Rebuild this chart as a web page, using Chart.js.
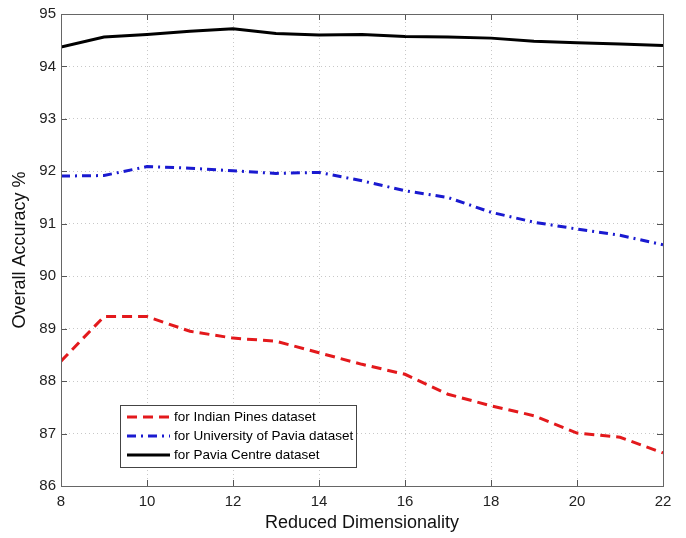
<!DOCTYPE html>
<html>
<head>
<meta charset="utf-8">
<script src="https://cdn.jsdelivr.net/npm/chart.js@4"></script>
<style>
  html, body { margin: 0; padding: 0; background: #fff; }
  #wrap { width: 686px; height: 538px; position: relative; }
</style>
</head>
<body>
<div id="wrap"><canvas id="chart"></canvas></div>
<script>
(function(){
    "use strict";

    const dims = [8, 9, 10, 11, 12, 13, 14, 15, 16, 17, 18, 19, 20, 21, 22];
    const indianPines = [88.38, 89.23, 89.23, 88.95, 88.82, 88.76, 88.54, 88.32, 88.13, 87.75, 87.53, 87.34, 87.01, 86.93, 86.63];
    const paviaUniv = [91.91, 91.92, 92.09, 92.06, 92.01, 91.96, 91.98, 91.82, 91.63, 91.50, 91.22, 91.03, 90.90, 90.78, 90.60];
    const paviaCentre = [94.37, 94.56, 94.61, 94.67, 94.72, 94.63, 94.60, 94.61, 94.57, 94.56, 94.54, 94.48, 94.45, 94.43, 94.40];
    const seriesNames = ['for Indian Pines dataset', 'for University of Pavia dataset', 'for Pavia Centre dataset'];

    const font = '"Liberation Sans", Arial, Helvetica, sans-serif';

    function toPoints(vals) {
        return dims.map((d, i) => ({ x: d, y: vals[i] }));
    }

    const lineStyles = [
        { color: '#e3191c', dash: [10, 6] },
        { color: '#1a1ad0', dash: [9, 5, 2, 5] },
        { color: '#000000', dash: [] }
    ];

    // box, inward ticks and legend, drawn like a matlab figure
    const frame = {
        id: 'frame',
        afterDraw(chart) {
            const ctx = chart.ctx;
            const a = chart.chartArea;
            const xs = chart.scales.x;
            const ys = chart.scales.y;
            ctx.save();
            ctx.strokeStyle = '#555';
            ctx.lineWidth = 1;
            xs.ticks.forEach(t => {
                const px = Math.round(xs.getPixelForValue(t.value)) + 0.5;
                ctx.beginPath();
                ctx.moveTo(px, a.bottom); ctx.lineTo(px, a.bottom - 6);
                ctx.moveTo(px, a.top); ctx.lineTo(px, a.top + 6);
                ctx.stroke();
            });
            ys.ticks.forEach(t => {
                const py = Math.round(ys.getPixelForValue(t.value)) + 0.5;
                ctx.beginPath();
                ctx.moveTo(a.left, py); ctx.lineTo(a.left + 6, py);
                ctx.moveTo(a.right, py); ctx.lineTo(a.right - 6, py);
                ctx.stroke();
            });
            ctx.strokeStyle = '#666';
            ctx.strokeRect(Math.round(a.left) + 0.5, Math.round(a.top) + 0.5,
                Math.round(a.right - a.left), Math.round(a.bottom - a.top));

            // legend box
            const lx = 120, ly = 405, lw = 236, lh = 62;
            ctx.fillStyle = '#fff';
            ctx.fillRect(lx, ly, lw, lh);
            ctx.strokeStyle = '#444';
            ctx.strokeRect(lx + 0.5, ly + 0.5, lw, lh);
            ctx.font = '13.5px ' + font;
            ctx.textBaseline = 'middle';
            seriesNames.forEach((name, i) => {
                const y = ly + 12 + i * 19;
                ctx.beginPath();
                ctx.setLineDash(lineStyles[i].dash);
                ctx.strokeStyle = lineStyles[i].color;
                ctx.lineWidth = 3;
                ctx.moveTo(127, y); ctx.lineTo(170, y);
                ctx.stroke();
                ctx.setLineDash([]);
                ctx.fillStyle = '#000';
                ctx.fillText(name, 174, y);
            });
            ctx.restore();
        }
    };

    const datasets = [indianPines, paviaUniv, paviaCentre].map((vals, i) => ({
        label: seriesNames[i],
        data: toPoints(vals),
        borderColor: lineStyles[i].color,
        borderDash: lineStyles[i].dash,
        borderWidth: 3,
        pointRadius: 0,
        tension: 0,
        fill: false
    }));

    new Chart(document.getElementById('chart'), {
        type: 'line',
        data: { datasets: datasets },
        plugins: [frame],
        options: {
            responsive: true,
            maintainAspectRatio: false,
            animation: false,
            layout: { padding: { top: 10, right: 23, left: 0, bottom: 0 } },
            plugins: {
                legend: { display: false },
                tooltip: { enabled: false }
            },
            scales: {
                x: {
                    type: 'linear',
                    min: 8, max: 22,
                    ticks: { stepSize: 2, color: '#222', font: { family: font, size: 15 }, padding: 7, maxRotation: 0 },
                    grid: { color: '#c8c8c8', drawTicks: false, lineWidth: 1 },
                    border: { display: false, dash: [1, 3] },
                    title: { display: true, text: 'Reduced Dimensionality', color: '#111', font: { family: font, size: 18 }, padding: { top: 1, bottom: 4 } },
                    afterFit(scale) { scale.height = 52; }
                },
                y: {
                    min: 86, max: 95,
                    ticks: { stepSize: 1, color: '#222', font: { family: font, size: 15 }, padding: 5 },
                    grid: { color: '#c8c8c8', drawTicks: false, lineWidth: 1 },
                    border: { display: false, dash: [1, 3] },
                    title: { display: true, text: 'Overall Accuracy %', color: '#111', font: { family: font, size: 18 }, padding: { top: 9, bottom: 4 } },
                    afterFit(scale) { scale.width = 61; }
                }
            }
        }
    });
})();
</script>
</body>
</html>
